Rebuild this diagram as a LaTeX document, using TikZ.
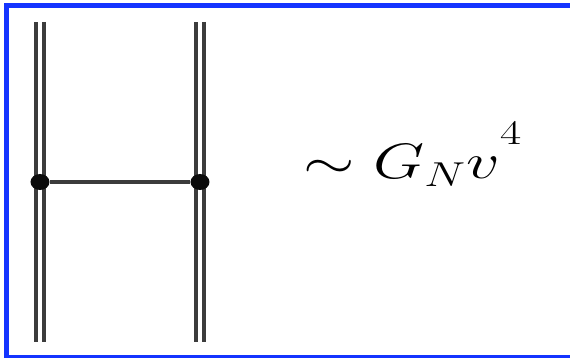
\documentclass[tikz,border=0pt]{standalone}
\usepackage{amsmath}
\usepackage{xcolor}
\usepackage{tikz}
\usetikzlibrary{positioning,shapes.geometric}
\definecolor{frameblue}{HTML}{1434FF}
\definecolor{ink}{HTML}{0B0B0B}
\definecolor{strand}{HTML}{3C3C3C}

\begin{document}
\begin{tikzpicture}[x=0.5pt,y=-0.5pt,
    worldline/.style={draw=strand,line width=2pt,double=white,double distance=1.8pt},
    rung/.style={draw=strand,line width=2.2pt},
    vertex/.style={ellipse,fill=ink,inner sep=0pt,minimum width=9.5pt,minimum height=8pt}]
  \clip (0,0) rectangle (570,358);
  \draw[frameblue,line width=2.6pt] (6.5,5.5) rectangle (580,357.5);
  % the two double lines
  \coordinate (lt) at (40,22);
  \coordinate (lb) at (40,342);
  \coordinate (rt) at (200,22);
  \coordinate (rb) at (200,342);
  \draw[worldline] (lt) -- (lb);
  \draw[worldline] (rt) -- (rb);
  % exchange between them
  \node[vertex] (v1) at (40,182) {};
  \node[vertex] (v2) at (200,182) {};
  \draw[rung] (v1) -- (v2);
  \node[anchor=base,xscale=1.33,transform shape,inner sep=0pt,
        font=\fontsize{27}{32}\selectfont] (scaling) at (413,179)
        {$\sim G_N v^{\raisebox{8pt}{$\scriptstyle 4$}}$};
\end{tikzpicture}
\end{document}
